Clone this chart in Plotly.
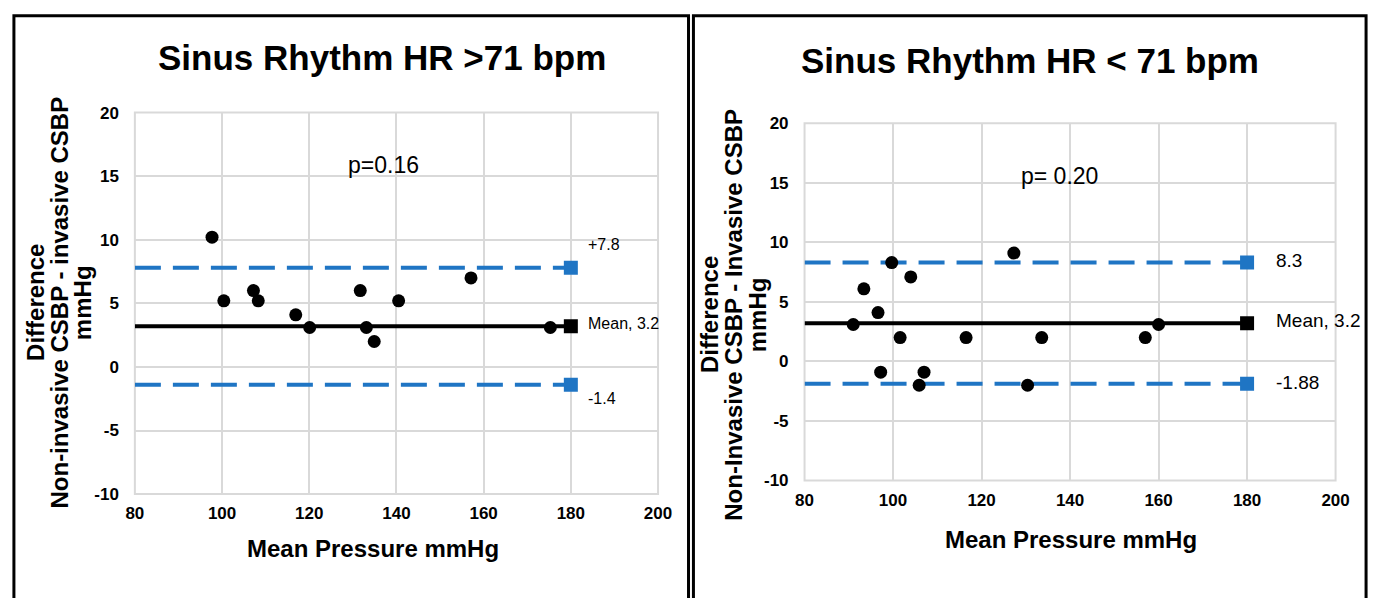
import plotly.graph_objects as go

# ---------------- data ----------------
left_x = [97.7, 100.4, 107.2, 108.3, 116.9, 120.1, 131.7, 133.1, 134.9, 140.5, 157.1, 175.3]
left_y = [10.2, 5.2, 6.0, 5.2, 4.1, 3.1, 6.0, 3.1, 2.0, 5.2, 7.0, 3.1]
left_mean = 3.2
left_upper = 7.8
left_lower = -1.4

right_x = [91.0, 93.4, 96.6, 99.7, 101.6, 104.0, 116.5, 127.3, 133.6, 157.0, 160.0, 97.2, 107.0, 105.9, 130.4]
right_y = [3.1, 6.1, 4.1, 8.3, 2.0, 7.1, 2.0, 9.1, 2.0, 2.0, 3.1, -0.9, -0.9, -2.0, -2.0]
right_mean = 3.2
right_upper = 8.3
right_lower = -1.88

line_x = [80, 180]
end_x = [180]

x_tickvals = [80, 100, 120, 140, 160, 180, 200]
x_ticktext = ["80", "100", "120", "140", "160", "180", "200"]
y_tickvals = [-10, -5, 0, 5, 10, 15, 20]
y_ticktext = ["-10", "-5", "0", "5", "10", "15", "20"]

titles = ["Sinus Rhythm HR >71 bpm", "Sinus Rhythm HR < 71 bpm"]
ytitle_lines = [["Difference", "Non-invasive CSBP - invasive CSBP", "mmHg"],
                ["Difference", "Non-Invasive CSBP - Invasive CSBP", "mmHg"]]
xtitle = "Mean Pressure mmHg"
ptexts = ["p=0.16", "p= 0.20"]
left_labels = ["+7.8", "Mean, 3.2", "-1.4"]
right_labels = ["8.3", "Mean, 3.2", "-1.88"]

BLUE = "#1f75c4"
FONT = "Liberation Sans, Arial, sans-serif"

fig = go.Figure()

def add_panel(xa, ya, px, py, mean, upper, lower):
    for val, col, dash in [(upper, BLUE, "26px,12px"), (lower, BLUE, "26px,12px"), (mean, "black", "solid")]:
        fig.add_trace(go.Scatter(x=line_x, y=[val, val], mode="lines",
                                 line=dict(color=col, width=4, dash=dash),
                                 xaxis=xa, yaxis=ya, showlegend=False, hoverinfo="skip"))
        fig.add_trace(go.Scatter(x=end_x, y=[val], mode="markers",
                                 marker=dict(symbol="square", size=14, color=col),
                                 xaxis=xa, yaxis=ya, showlegend=False, hoverinfo="skip"))
    fig.add_trace(go.Scatter(x=px, y=py, mode="markers",
                             marker=dict(symbol="circle", size=13, color="black"),
                             xaxis=xa, yaxis=ya, showlegend=False))

add_panel("x", "y", left_x, left_y, left_mean, left_upper, left_lower)
add_panel("x2", "y2", right_x, right_y, right_mean, right_upper, right_lower)

W, H = 1384, 598
axis_common = dict(showgrid=True, gridcolor="#d9d9d9", gridwidth=2,
                   zeroline=True, zerolinecolor="#d9d9d9", zerolinewidth=2,
                   showline=False, ticks="", fixedrange=True,
                   tickfont=dict(family=FONT, size=17, color="black", weight="bold"))
xax = dict(range=[80, 200], tickvals=x_tickvals, ticktext=x_ticktext, ticklabelstandoff=7, **axis_common)
yax = dict(range=[-10, 20], tickvals=y_tickvals, ticktext=y_ticktext, ticklabelstandoff=15, **axis_common)

fig.update_layout(
    width=W, height=H,
    margin=dict(l=0, r=0, t=0, b=0),
    paper_bgcolor="white", plot_bgcolor="white",
    font=dict(family=FONT, color="black"),
    xaxis=dict(domain=[128 / W, 660 / W], anchor="y", **xax),
    yaxis=dict(domain=[1 - 501 / H, 1 - 107 / H], anchor="x", **yax),
    xaxis2=dict(domain=[809 / W, 1349 / W], anchor="y2", **xax),
    yaxis2=dict(domain=[1 - 487 / H, 1 - 118 / H], anchor="x2", **yax),
)

for xr, yr in [("x", "y"), ("x2", "y2")]:
    fig.add_shape(type="rect", xref=f"{xr} domain", yref=f"{yr} domain",
                  x0=0, x1=1, y0=0, y1=1, line=dict(color="#d9d9d9", width=2), layer="below")

# panel borders
fig.add_shape(type="rect", xref="paper", yref="paper", x0=5 / W, x1=691 / W,
              y0=-0.05, y1=1 - 7 / H, line=dict(color="black", width=3))
fig.add_shape(type="rect", xref="paper", yref="paper", x0=696 / W, x1=1380 / W,
              y0=-0.05, y1=1 - 7 / H, line=dict(color="black", width=3))

ann = []
def pa(text, x, y, size, bold=False, angle=0):
    ann.append(dict(text=text, x=x / W, y=1 - y / H, xref="paper", yref="paper",
                    xanchor="center", yanchor="middle", showarrow=False, textangle=angle,
                    font=dict(size=size, weight="bold" if bold else "normal")))

pa(titles[0], 379, 50, 35, True)
pa(titles[1], 1038, 53, 35, True)
pa(xtitle, 370, 557, 24, True)
pa(xtitle, 1080, 548, 24, True)
for txt, xc in zip(ytitle_lines[0], [27, 51, 75]):
    pa(txt, xc, 303, 24, True, -90)
for txt, xc in zip(ytitle_lines[1], [713, 737, 762]):
    pa(txt, xc, 316, 24, True, -90)

ann.append(dict(text=ptexts[0], x=137, y=15.9, xref="x", yref="y", showarrow=False,
                xanchor="center", yanchor="middle", font=dict(size=23)))
ann.append(dict(text=ptexts[1], x=137.6, y=15.6, xref="x2", yref="y2", showarrow=False,
                xanchor="center", yanchor="middle", font=dict(size=23)))
for txt, yv in zip(left_labels, [9.6, 3.4, -2.5]):
    ann.append(dict(text=txt, x=183.5, y=yv, xref="x", yref="y", showarrow=False,
                    xanchor="left", yanchor="middle", font=dict(size=16)))
for txt, yv in zip(right_labels, [8.5, 3.4, -1.8]):
    ann.append(dict(text=txt, x=186, y=yv, xref="x2", yref="y2", showarrow=False,
                    xanchor="left", yanchor="middle", font=dict(size=19)))

fig.update_layout(annotations=ann)
fig.write_html("out.html")
